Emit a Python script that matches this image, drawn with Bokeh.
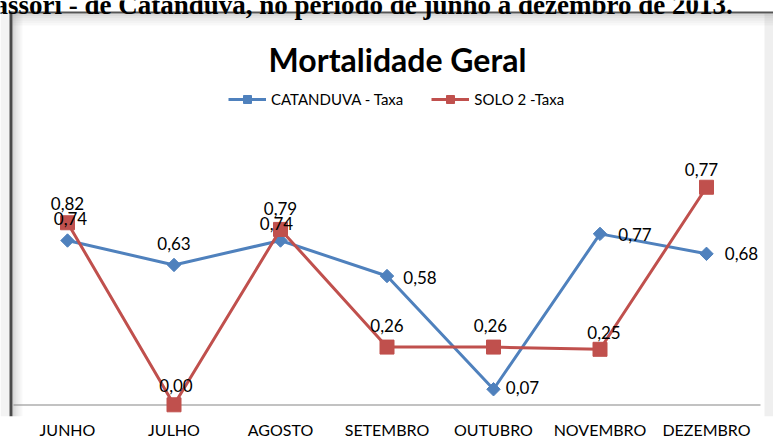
import math
from bokeh.plotting import figure
from bokeh.models import (FactorRange, Range1d, Label, BoxAnnotation, Legend,
                          LegendItem, ColumnDataSource)
from bokeh.embed import file_html
from bokeh.resources import INLINE
from bokeh.core.properties import value

# ---------------- data ----------------
months = ["JUNHO", "JULHO", "AGOSTO", "SETEMBRO", "OUTUBRO", "NOVEMBRO", "DEZEMBRO"]
catanduva = [0.74, 0.63, 0.74, 0.58, 0.07, 0.77, 0.68]
catanduva_labels = ["0,74", "0,63", "0,74", "0,58", "0,07", "0,77", "0,68"]
solo2 = [0.82, 0.00, 0.79, 0.26, 0.26, 0.25, 0.98]
solo2_labels = ["0,82", "0,00", "0,79", "0,26", "0,26", "0,25", "0,77"]

title_text = "Mortalidade Geral"
caption_text = "assori - de Catanduva, no período de junho a dezembro de 2013."
series_names = ["CATANDUVA - Taxa", "SOLO 2 -Taxa"]

# ---------------- styling / layout ----------------
cat_dx = [3, 0, -4, 33, 29, 35, 35]
cat_dy = [-22, -21, -17, 1, -2, 1, 0]
solo_dx = [0, 2, 0, 0, -3, 4, -5]
solo_dy = [-19, -19, -21, -22, -22, -17, -18]

BLUE = "#4F81BD"
RED = "#C0504D"
W, H = 773, 445
BOTTOM = 29
F = H - BOTTOM          # frame height
PXU = 106.5             # pixels per category
PAD = (W / PXU - len(months)) / 2   # padding on each side (category units)
Y0 = 404.3              # pixel row of value 0 inside the frame
SCALE = 222.0           # pixels per unit


def px_x(fx):
    return fx / PXU - PAD


def px_y(fy):
    return (Y0 - fy) / SCALE


p = figure(width=W, height=H, output_backend="svg", toolbar_location=None,
           x_range=FactorRange(*months, range_padding=PAD,
                               range_padding_units="absolute"),
           y_range=Range1d(-(F - Y0) / SCALE, Y0 / SCALE),
           min_border_left=0, min_border_right=0, min_border_top=0,
           min_border_bottom=BOTTOM, y_axis_location=None)
p.outline_line_color = None
p.xgrid.visible = False
p.ygrid.visible = False
p.background_fill_color = "white"
p.border_fill_color = "white"

xa = p.xaxis[0]
xa.axis_line_color = None
xa.major_tick_line_color = None
xa.minor_tick_line_color = None
xa.major_tick_out = 0
xa.major_tick_in = 0
xa.major_label_standoff = 3
xa.major_label_text_font = "Lato"
xa.major_label_text_font_size = "16px"
xa.major_label_text_color = "#000000"

# document frame (left / top border with soft shadow)
def box(**kw):
    b = BoxAnnotation(line_color=None, level="underlay", **kw)
    p.add_layout(b)

box(left=px_x(0), right=px_x(9), top=px_y(11), fill_color="#f3f3f3", fill_alpha=1)
box(left=px_x(764), top=px_y(13), fill_color="#efefef", fill_alpha=1)
for i, a in enumerate([0.32, 0.24, 0.17, 0.11, 0.06]):
    box(left=px_x(12 + 2 * i), right=px_x(14 + 2 * i), top=px_y(13),
        fill_color="#808080", fill_alpha=a)
    box(left=px_x(12), top=px_y(13 + 2.4 * i), bottom=px_y(15.4 + 2.4 * i),
        fill_color="#909090", fill_alpha=a)
box(left=px_x(9), right=px_x(12), top=px_y(11), fill_color="#4a4a4a", fill_alpha=1)
box(left=px_x(9), top=px_y(11), bottom=px_y(13), fill_color="#555555", fill_alpha=1)

# category axis line at zero
box(left=px_x(13), right=px_x(760), top=px_y(404), bottom=px_y(405),
    fill_color="#868686", fill_alpha=1)

# series
src_c = ColumnDataSource(dict(m=months, v=catanduva, t=catanduva_labels,
                              dx=cat_dx, dy=cat_dy))
src_s = ColumnDataSource(dict(m=months, v=solo2, t=solo2_labels,
                              dx=solo_dx, dy=solo_dy))

l1 = p.line("m", "v", source=src_c, line_color=BLUE, line_width=3)
s1 = p.scatter("m", "v", source=src_c, marker="square", angle=math.pi / 4,
               size=9.5, fill_color=BLUE, line_color=BLUE)
l2 = p.line("m", "v", source=src_s, line_color=RED, line_width=3)
s2 = p.scatter("m", "v", source=src_s, marker="square", size=14,
               fill_color=RED, line_color=RED)

for src in (src_s, src_c):
    p.text("m", "v", text="t", source=src, x_offset="dx", y_offset="dy",
           text_font=value("Lato"), text_font_size=value("17px"),
           text_align="center", text_baseline="middle", text_color="#000000")

legend = Legend(items=[LegendItem(label=series_names[0], renderers=[l1, s1]),
                       LegendItem(label=series_names[1], renderers=[l2, s2])],
                orientation="horizontal", location=(228, F - 109),
                glyph_width=38, glyph_height=20, label_standoff=5, spacing=28,
                padding=0, margin=0, border_line_color=None,
                background_fill_alpha=0, label_text_font="Lato",
                label_text_font_size="15px", label_text_color="#000000")
p.add_layout(legend)

p.add_layout(Label(x=px_x(397), y=px_y(59), text=title_text, text_font="Lato",
                   text_font_style="bold", text_font_size="32px",
                   text_align="center", text_baseline="alphabetic",
                   text_color="#000000"))
p.add_layout(Label(x=px_x(-6), y=px_y(4), text=caption_text,
                   text_font="Liberation Serif", text_font_style="bold",
                   text_font_size="27px", text_align="left",
                   text_baseline="alphabetic", text_color="#000000"))

open("out.html", "w").write(file_html(p, INLINE))
